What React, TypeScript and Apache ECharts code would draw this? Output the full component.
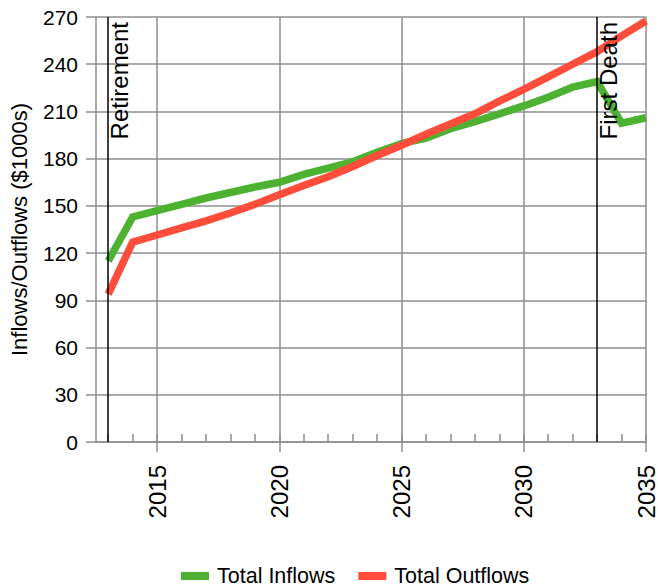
import React, { useEffect, useRef } from "react";
import * as echarts from "echarts";

// Yearly cash flows, in thousands of dollars
const years = [
  2013, 2014, 2015, 2016, 2017, 2018, 2019, 2020, 2021, 2022, 2023, 2024,
  2025, 2026, 2027, 2028, 2029, 2030, 2031, 2032, 2033, 2034, 2035,
];
const totalInflows = [
  115, 143, 147, 151, 155, 158.5, 162, 165, 170, 174, 178, 184,
  189.5, 193, 199, 203.5, 208.5, 213.5, 219, 225.5, 229, 202.5, 206,
];
const totalOutflows = [
  94, 127, 131.5, 136, 140.5, 145.5, 151, 157, 163, 168.5, 175, 182,
  188.5, 195.5, 202, 208.5, 216.5, 224, 232, 240, 248, 258, 267.5,
];

// Labelled x-axis years and the life events marked on the timeline
const majorYears = [2015, 2020, 2025, 2030, 2035];
const eventYears = [2013, 2033];
const eventNames = ["Retirement", "First Death"];

const FONT = '"Liberation Sans", Arial, Helvetica, sans-serif';
const GRID_COLOR = "#8e8e8e";
const GREEN = "#4db232";
const RED = "#ff4d3b";

export default function App() {
  const ref = useRef<HTMLDivElement>(null);

  useEffect(() => {
    document.body.style.margin = "0";
    const chart = echarts.init(ref.current!, null, { renderer: "svg" });
    const gridLine = { color: GRID_COLOR, width: 1.5 };

    chart.setOption({
      animation: false,
      textStyle: { fontFamily: FONT, color: "#000" },
      grid: { left: 96, right: 11, top: 17, bottom: 145 },
      legend: {
        data: ["Total Inflows", "Total Outflows"],
        left: 181,
        top: 565,
        padding: 0,
        icon: "rect",
        itemWidth: 28,
        itemHeight: 8,
        itemGap: 23,
        textStyle: { fontSize: 21.5, color: "#000", fontFamily: FONT, padding: [0, 0, 0, 3] },
      },
      xAxis: [
        {
          type: "value",
          position: "bottom",
          min: 2012.5,
          max: 2035,
          splitNumber: 5,
          axisLine: { show: true, onZero: false, lineStyle: gridLine },
          axisTick: { show: true, length: 10, lineStyle: gridLine, customValues: majorYears },
          axisLabel: {
            customValues: majorYears,
            rotate: 90,
            margin: 23,
            fontSize: 24,
            color: "#000",
            fontFamily: FONT,
            formatter: (v: number) => String(v),
          },
          splitLine: { show: true, lineStyle: gridLine },
        },
        {
          // yearly ticks pointing into the plot
          type: "value",
          position: "bottom",
          min: 2012.5,
          max: 2035,
          axisLine: { show: false, onZero: false },
          axisTick: {
            show: true,
            inside: true,
            length: 8,
            lineStyle: gridLine,
            customValues: years,
          },
          axisLabel: { show: false },
          splitLine: { show: false },
        },
      ],
      yAxis: {
        type: "value",
        min: 0,
        max: 270,
        interval: 30,
        name: "Inflows/Outflows ($1000s)",
        nameLocation: "middle",
        nameRotate: 90,
        nameGap: 66,
        nameTextStyle: { fontSize: 22, color: "#000", fontFamily: FONT },
        axisLine: { show: true, lineStyle: gridLine },
        axisTick: { show: true, length: 10, lineStyle: gridLine },
        axisLabel: { fontSize: 21, margin: 18, color: "#000", fontFamily: FONT },
        splitLine: { show: true, lineStyle: gridLine },
      },
      series: [
        {
          name: "Total Inflows",
          type: "line",
          xAxisIndex: 0,
          data: years.map((y, i) => [y, totalInflows[i]]),
          symbol: "none",
          showSymbol: false,
          lineStyle: { width: 7.5, color: GREEN, cap: "butt", join: "miter" },
          itemStyle: { color: GREEN },
          emphasis: { disabled: true },
          markLine: {
            silent: true,
            symbol: ["none", "none"],
            lineStyle: { color: "#000", width: 1.5, type: "solid" },
            label: {
              show: true,
              position: "insideEndBottom",
              distance: [5, -1],
              fontSize: 24,
              color: "#000",
              fontFamily: FONT,
              formatter: (p: any) => p.name,
            },
            emphasis: { disabled: true },
            data: eventYears.map((x, i) => ({ xAxis: x, name: eventNames[i] })),
          },
        },
        {
          name: "Total Outflows",
          type: "line",
          xAxisIndex: 0,
          data: years.map((y, i) => [y, totalOutflows[i]]),
          symbol: "none",
          showSymbol: false,
          lineStyle: { width: 7.5, color: RED, cap: "butt", join: "miter" },
          itemStyle: { color: RED },
          emphasis: { disabled: true },
        },
      ],
    });

    return () => chart.dispose();
  }, []);

  return <div ref={ref} style={{ width: 658, height: 587 }} />;
}
